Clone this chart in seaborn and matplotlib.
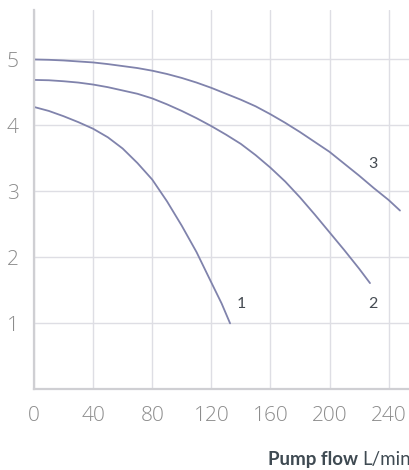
import pandas as pd
import matplotlib.pyplot as plt
import seaborn as sns

# Pump curves (flow L/min -> head)
flow_1 = [0, 10, 20, 30, 40, 50, 60, 70, 80, 90, 100, 110, 120, 127, 132.7]
head_1 = [4.28, 4.22, 4.14, 4.05, 3.95, 3.82, 3.65, 3.43, 3.18, 2.85, 2.48, 2.08, 1.62, 1.30, 1.0]

flow_2 = [0, 10, 20, 30, 40, 50, 60, 70, 80, 90, 100, 110, 120, 130, 140, 150,
          160, 170, 180, 190, 200, 210, 220, 227.4]
head_2 = [4.69, 4.685, 4.67, 4.65, 4.62, 4.58, 4.53, 4.48, 4.41, 4.32, 4.22, 4.11,
          3.99, 3.86, 3.72, 3.55, 3.36, 3.15, 2.91, 2.65, 2.38, 2.11, 1.83, 1.61]

flow_3 = [0, 10, 20, 30, 40, 50, 60, 70, 80, 90, 100, 110, 120, 130, 140, 150,
          160, 170, 180, 190, 200, 210, 220, 230, 240, 247.7]
head_3 = [5.0, 4.995, 4.985, 4.97, 4.955, 4.93, 4.90, 4.87, 4.83, 4.78, 4.72, 4.65,
          4.57, 4.48, 4.39, 4.29, 4.17, 4.04, 3.90, 3.75, 3.60, 3.42, 3.24, 3.05, 2.87, 2.71]

curve_names = ["1", "2", "3"]
label_pos = [(140.6, 1.30), (229.2, 1.30), (229.2, 3.42)]
x_ticks = [0, 40, 80, 120, 160, 200, 240]
y_ticks = [1, 2, 3, 4, 5]

rows = []
for name, fl, hd in zip(curve_names, [flow_1, flow_2, flow_3], [head_1, head_2, head_3]):
    for f, h in zip(fl, hd):
        rows.append({"curve": name, "flow": f, "head": h})
df = pd.DataFrame(rows)

sns.set_theme(style="white")
plt.rcParams['font.family'] = ['Lato', 'DejaVu Sans']

fig = plt.figure(figsize=(4.09, 4.70), dpi=100)
ax = fig.add_axes([34 / 409, 80.7 / 470, 1 - 34 / 409, 379.3 / 470])

line_color = "#8083ac"
sns.lineplot(data=df, x="flow", y="head", hue="curve", units="curve", estimator=None,
             palette=[line_color] * 3, linewidth=1.3, legend=False, sort=False, ax=ax)

ax.set_xlim(0, 253.8)
ax.set_ylim(0, 5.75)
ax.set_xticks(x_ticks)
ax.set_yticks(y_ticks)
ax.grid(True, color="#dedee4", linewidth=1)
ax.set_axisbelow(True)
for side in ["top", "right"]:
    ax.spines[side].set_visible(False)
for side in ["left", "bottom"]:
    ax.spines[side].set_color("#cfcfd3")
    ax.spines[side].set_linewidth(1.6)
ax.tick_params(axis="both", length=0, colors="#8c8c8c")
ax.tick_params(axis="x", pad=12)
ax.tick_params(axis="y", pad=11)
for lbl in ax.get_xticklabels() + ax.get_yticklabels():
    lbl.set_fontfamily(['Open Sans', 'DejaVu Sans'])
    lbl.set_fontweight("light")
    lbl.set_fontsize(15)
ax.set_xlabel("")
ax.set_ylabel("")

for name, (lx, ly) in zip(curve_names, label_pos):
    ax.text(lx, ly, name, ha="center", va="center", fontsize=11.5, color="#454b52")

t1 = fig.text(268 / 409, 1 - 460 / 470, "Pump flow", ha="left", va="center",
              fontsize=13.5, fontweight="bold", color="#3f4a52")
fig.canvas.draw()
bb = t1.get_window_extent(renderer=fig.canvas.get_renderer())
fig.text((bb.x1 + 4) / (4.09 * 100), 1 - 460 / 470, "L/min", ha="left", va="center",
         fontsize=13.5, color="#3f4a52")

plt.savefig("out.png", dpi=100)
plt.close()
